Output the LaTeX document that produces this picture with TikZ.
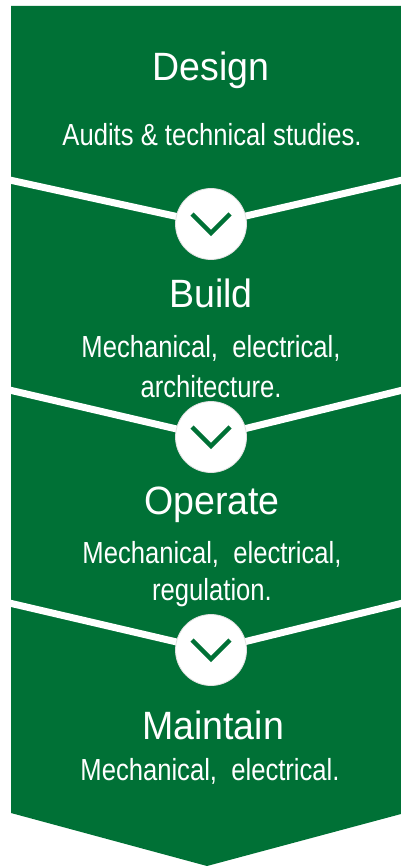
\documentclass[tikz,border=0pt]{standalone}
\usepackage{fontspec}
\setmainfont{Liberation Sans}
\newfontfamily\titlefont[FakeStretch=0.95]{Liberation Sans}
\newfontfamily\subfont[FakeStretch=0.84]{Liberation Sans}
\definecolor{pgreen}{RGB}{0,113,54}
\begin{document}
\begin{tikzpicture}[x=1pt,y=-1pt,
  ttl/.style={anchor=base, inner sep=0pt, text=white, font=\titlefont\fontsize{39.5}{39.5}\selectfont},
  sub/.style={anchor=base, inner sep=0pt, text=white, font=\subfont\fontsize{30.5}{30.5}\selectfont},
  band/.style={draw=white, line width=7pt, line join=miter},
  stepcircle/.style={circle, fill=white, draw=black!12, line width=0.8pt, minimum size=71pt, inner sep=0pt},
  chev/.style={draw=pgreen, line width=4.5pt, line join=miter, line cap=butt}
]
\useasboundingbox[fill=white] (0,0) rectangle (402,866);
% main arrow shape
\fill[pgreen] (11,6) -- (401,6) -- (401,814) -- (207,866) -- (11,813) -- cycle;

% separators
\coordinate (l1) at (5,179);
\coordinate (r1) at (407,179);
\coordinate (l2) at (5,389);
\coordinate (r2) at (407,389);
\coordinate (l3) at (5,602);
\coordinate (r3) at (407,602);
\coordinate (m1) at (211,224);
\coordinate (m2) at (211,437);
\coordinate (m3) at (211,650);
\draw[band] (l1) -- (m1) -- (r1);
\draw[band] (l2) -- (m2) -- (r2);
\draw[band] (l3) -- (m3) -- (r3);
\fill[white] (0,0) rectangle (11,866);
\fill[white] (401,0) rectangle (402,866);

% step circles
\node[stepcircle] (c1) at (m1) {};
\node[stepcircle] (c2) at (m2) {};
\node[stepcircle] (c3) at (m3) {};
\foreach \c in {c1,c2,c3}{
  \draw[chev] ([shift={(-19,-10)}]\c.center) -- ([shift={(0,9)}]\c.center) -- ([shift={(19,-10)}]\c.center);
}

% texts
\node[ttl] (t1) at (211,81) {Design};
\node[sub] (s1) at (212,146) {Audits \& technical studies.};
\node[ttl] (t2) at (211,307) {Build};
\node[sub] (s2a) at (211,357) {Mechanical,\ \ electrical,};
\node[sub] (s2b) at (211,397) {architecture.};
\node[ttl] (t3) at (212,514) {Operate};
\node[sub] (s3a) at (212,563) {Mechanical,\ \ electrical,};
\node[sub] (s3b) at (212,600) {regulation.};
\node[ttl] (t4) at (213,739) {Maintain};
\node[sub] (s4) at (210,780) {Mechanical,\ \ electrical.};
\end{tikzpicture}
\end{document}
